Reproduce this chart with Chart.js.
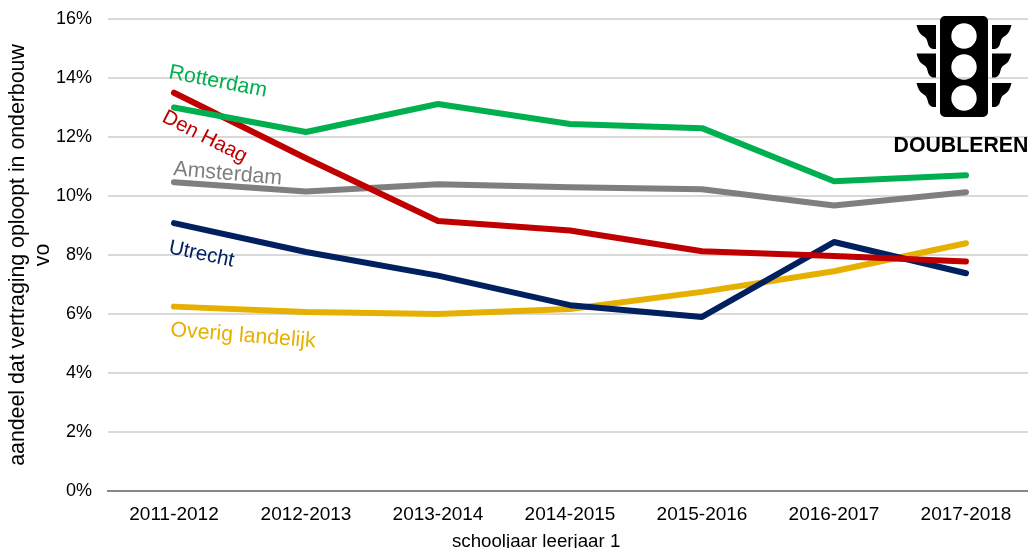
<!DOCTYPE html>
<html><head><meta charset="utf-8">
<style>html,body{margin:0;padding:0;background:#fff;overflow:hidden;width:1028px;height:548px}
#w{position:relative;width:1032px;height:556px}</style>
<script src="https://cdn.jsdelivr.net/npm/chart.js@4"></script></head>
<body><div id="w"><canvas id="c"></canvas></div>
<script>
const categories=["2011-2012","2012-2013","2013-2014","2014-2015","2015-2016","2016-2017","2017-2018"];
const rotterdam=[13.0,12.17,13.12,12.44,12.3,10.5,10.7];
const denHaag=[13.5,11.28,9.15,8.83,8.13,7.97,7.78];
const amsterdam=[10.47,10.15,10.4,10.3,10.23,9.68,10.13];
const utrecht=[9.08,8.1,7.3,6.3,5.9,8.44,7.38];
const overig=[6.25,6.07,6.0,6.17,6.75,7.45,8.4];
const xTitle='schooljaar leerjaar 1';
const F='"Liberation Sans",Arial,sans-serif';
const labels=[
 ["Rotterdam","#00b050",168,78,11,21.3],
 ["Den Haag","#c00000",161,121,27,20.5],
 ["Amsterdam","#7f7f7f",173,175,5,21.3],
 ["Utrecht","#002060",168,253,12,20.5],
 ["Overig landelijk","#e6b000",170,336,4.5,21.3]];
const ds=(label,data,color)=>({label,data,borderColor:color,backgroundColor:color,borderWidth:6,pointRadius:0,tension:0,borderCapStyle:'round',borderJoinStyle:'round'});
const annot={id:'annot',afterDatasetsDraw(ch){
 const g=ch.ctx;g.save();
 g.textBaseline='alphabetic';g.textAlign='left';
 for(const [t,col,x,y,a,sz] of labels){g.save();g.font=sz+'px '+F;g.translate(x,y);g.rotate(a*Math.PI/180);g.fillStyle=col;g.fillText(t,0,0);g.restore();}
 g.fillStyle='#000';
 g.font='18.7px '+F;g.fillText(xTitle,452,547);
 const p=new Path2D();
 p.roundRect(940,16,48,101,5);
 for(const cy of [36,67,98]){p.moveTo(976.7,cy);p.arc(964,cy,12.7,0,Math.PI*2);}
 g.fill(p,'evenodd');
 for(const oy of [25,53.5,83]){
  for(const m of [1,-1]){
   const X=d=>964+m*d;
   const w=new Path2D();
   w.moveTo(X(-47.5),oy);w.lineTo(X(-28),oy);w.lineTo(X(-28),oy+24);w.lineTo(X(-31),oy+24);
   w.quadraticCurveTo(X(-35.5),oy+23,X(-36.5),oy+17);
   w.quadraticCurveTo(X(-37.5),oy+12.5,X(-41),oy+11);
   w.quadraticCurveTo(X(-45.5),oy+8.5,X(-47.5),oy);
   w.closePath();g.fill(w);
  }
 }
 g.font='bold 21.3px '+F;g.fillText('DOUBLEREN',893.5,152);
 g.restore();
}};
new Chart(document.getElementById('c'),{type:'line',
 data:{labels:categories,datasets:[
  ds('Rotterdam',rotterdam,'#00b050'),
  ds('Den Haag',denHaag,'#c00000'),
  ds('Amsterdam',amsterdam,'#7f7f7f'),
  ds('Utrecht',utrecht,'#002060'),
  ds('Overig landelijk',overig,'#e6b000')]},
 options:{responsive:true,maintainAspectRatio:false,animation:false,
  layout:{padding:{top:19,left:0,right:0,bottom:0}},
  plugins:{legend:{display:false},tooltip:{enabled:false}},
  scales:{
   x:{offset:true,afterFit(s){s.height=65;},grid:{display:false},border:{color:'#868686',width:2},
      ticks:{color:'#000',font:{family:F,size:19},padding:4,maxRotation:0}},
   y:{afterFit(s){s.width=108;s.paddingTop=0;s.paddingBottom=0;},min:0,max:16,
      grid:{color:'#d9d9d9',lineWidth:2,drawTicks:false},border:{display:false},
      ticks:{stepSize:2,color:'#000',padding:16,font:{family:F,size:18},callback:v=>v+'%'},
      title:{display:true,text:['aandeel dat vertraging oploopt in onderbouw','vo'],color:'#000',font:{family:F,size:21.3},padding:{top:5,bottom:0},align:'center'}}
  }},plugins:[annot]});
</script></body></html>
